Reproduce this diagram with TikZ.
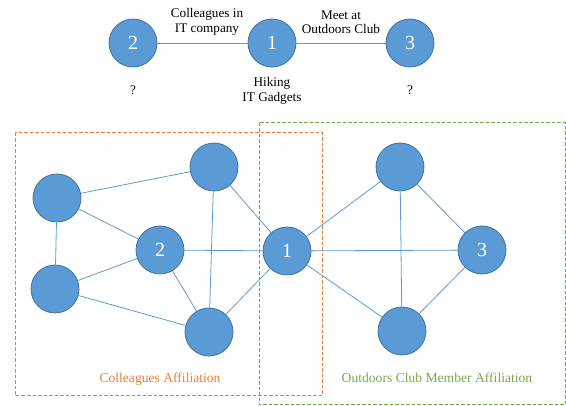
\documentclass[tikz,border=0pt]{standalone}
\usepackage{fontspec}
\setmainfont{Liberation Serif}
\definecolor{nodefill}{HTML}{5B9BD5}
\definecolor{nodeline}{HTML}{41719C}
\definecolor{edgecol}{HTML}{5B9BD5}
\definecolor{orangec}{HTML}{ED7D31}
\definecolor{greenc}{HTML}{70AD47}
\begin{document}
\begin{tikzpicture}[x=1pt,y=-1pt,
  person/.style={circle,fill=nodefill,draw=nodeline,line width=0.8pt,minimum size=48pt,inner sep=0pt,text=white,font=\fontsize{20}{22}\selectfont},
  tie/.style={draw=edgecol,line width=0.8pt},
  lbl/.style={font=\fontsize{13.2}{14.5}\selectfont,align=center,inner sep=0pt},
  grplbl/.style={font=\fontsize{13.6}{15}\selectfont,inner sep=0pt},
  grp/.style={line width=1pt,dash pattern=on 3.5pt off 2pt}]
\useasboundingbox (0,0) rectangle (566,406);
% top row
\node[person] (t2) at (133,43) {2};
\node[person] (t1) at (272,43) {1};
\node[person] (t3) at (410,43) {3};
\draw[tie] (t2) -- (t1);
\draw[tie] (t1) -- (t3);
\node[lbl] (lab21) at (207,22) {Colleagues in\\IT company};
\node[lbl] (lab13) at (341,22) {Meet at\\Outdoors Club};
\node[lbl] (q2) at (133,90) {?};
\node[lbl] (hk) at (272,91) {Hiking\\IT Gadgets};
\node[lbl] (q3) at (410,90) {?};
% groups
\draw[grp,orangec] (15,133) rectangle (322,396);
\draw[grp,greenc] (259,123) rectangle (565,405);
\node[grplbl,text=orangec] (ca) at (160,379) {Colleagues Affiliation};
\node[grplbl,text=greenc] (oc) at (437,378) {Outdoors Club Member Affiliation};
% lower nodes
\node[person] (a) at (57,198) {};
\node[person] (b) at (55,289) {};
\node[person] (n2) at (160,250) {2};
\node[person] (c) at (214,167) {};
\node[person] (d) at (209,332) {};
\node[person] (n1) at (287,251) {1};
\node[person] (e) at (400,167) {};
\node[person] (n3) at (482,250) {3};
\node[person] (f) at (402,331) {};
\draw[tie] (a) -- (c);
\draw[tie] (a) -- (n2);
\draw[tie] (a) -- (b);
\draw[tie] (b) -- (n2);
\draw[tie] (b) -- (d);
\draw[tie] (n2) -- (n1);
\draw[tie] (n2) -- (d);
\draw[tie] (c) -- (d);
\draw[tie] (c) -- (n1);
\draw[tie] (d) -- (n1);
\draw[tie] (n1) -- (e);
\draw[tie] (n1) -- (n3);
\draw[tie] (n1) -- (f);
\draw[tie] (e) -- (f);
\draw[tie] (e) -- (n3);
\draw[tie] (f) -- (n3);
\end{tikzpicture}
\end{document}
